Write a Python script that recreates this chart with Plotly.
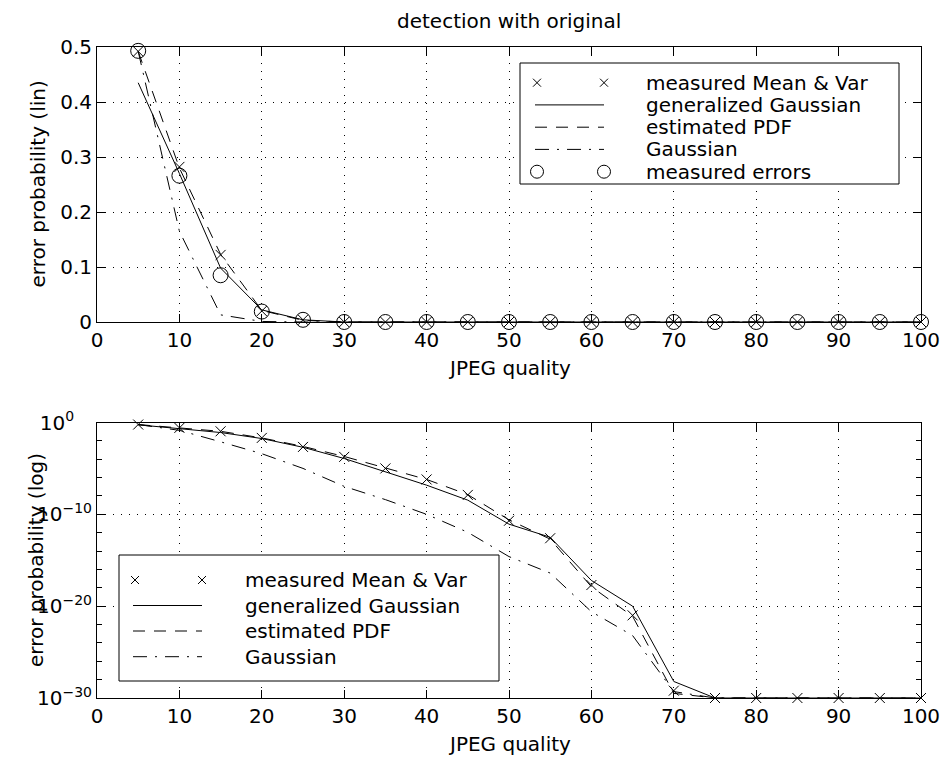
import plotly.graph_objects as go

# ---------------- data ----------------
quality = [5, 10, 15, 20, 25, 30, 35, 40, 45, 50, 55, 60, 65, 70, 75, 80, 85, 90, 95, 100]

# top panel (linear error probability)
meanvar_lin = [0.492, 0.282, 0.122, 0.020, 0.004, 0, 0, 0, 0, 0, 0, 0, 0, 0, 0, 0, 0, 0, 0, 0]
gengauss_lin = [0.435, 0.270, 0.098, 0.022, 0.004, 0, 0, 0, 0, 0, 0, 0, 0, 0, 0, 0, 0, 0, 0, 0]
estpdf_lin = [0.492, 0.280, 0.123, 0.021, 0.003, 0, 0, 0, 0, 0, 0, 0, 0, 0, 0, 0, 0, 0, 0, 0]
gauss_lin = [0.492, 0.165, 0.013, 0.001, 0, 0, 0, 0, 0, 0, 0, 0, 0, 0, 0, 0, 0, 0, 0, 0]
measerr_lin = [0.493, 0.266, 0.085, 0.019, 0.004, 0, 0, 0, 0, 0, 0, 0, 0, 0, 0, 0, 0, 0, 0, 0]

# bottom panel (log error probability)
meanvar_log = [6.0e-1, 2.6e-1, 1.1e-1, 2.1e-2, 2.2e-3, 1.8e-4, 1.0e-5, 6.3e-7, 1.3e-8, 2.0e-11,
               2.5e-13, 2.0e-18, 1.0e-21, 6.3e-30, 1e-30, 1e-30, 1e-30, 1e-30, 1e-30, 1e-30]
gengauss_log = [5.6e-1, 2.2e-1, 8.1e-2, 1.8e-2, 2.0e-3, 1.2e-4, 4.3e-6, 1.5e-7, 3.5e-9, 8.5e-12,
                3.2e-13, 6.3e-18, 1.0e-20, 6.3e-29, 1e-30, 1e-30, 1e-30, 1e-30, 1e-30, 1e-30]
estpdf_log = [6.0e-1, 2.8e-1, 1.1e-1, 2.1e-2, 2.5e-3, 2.0e-4, 1.1e-5, 6.3e-7, 1.4e-8, 2.5e-11,
              2.0e-13, 1.3e-18, 7.9e-22, 3.2e-30, 1e-30, 1e-30, 1e-30, 1e-30, 1e-30, 1e-30]
gauss_log = [6.0e-1, 1.4e-1, 7.9e-3, 4.0e-4, 1.0e-5, 1.1e-7, 4.0e-9, 1.0e-10, 1.1e-12, 2.5e-15,
             4.0e-17, 2.5e-21, 6.3e-24, 5.0e-30, 1e-30, 1e-30, 1e-30, 1e-30, 1e-30, 1e-30]

x_ticks = [0, 10, 20, 30, 40, 50, 60, 70, 80, 90, 100]
lin_ticks = [0, 0.1, 0.2, 0.3, 0.4, 0.5]
lin_ticktext = ["0", "0.1", "0.2", "0.3", "0.4", "0.5"]
log_ticks = [1, 1e-10, 1e-20, 1e-30]
log_ticktext = ["10<sup>0&nbsp;&nbsp;&nbsp;&nbsp;</sup>", "10<sup>\u221210</sup>",
                "10<sup>\u221220</sup>", "10<sup>\u221230</sup>"]
log_minor = [1e-2, 1e-4, 1e-6, 1e-8, 1e-12, 1e-14, 1e-16, 1e-18,
             1e-22, 1e-24, 1e-26, 1e-28]

# ---------------- styling ----------------
W, H = 942, 758
FONT = "DejaVu Sans"
FS = 20
DASH = "12px,9px"
DASHDOT = "14px,8px,2px,8px"


def px(x):
    return x / W


def py(y):
    return 1 - y / H


fig = go.Figure()


def add_panel(xa, ya, mv, gg, pdf, ga, me=None):
    fig.add_trace(go.Scatter(x=quality, y=gg, mode="lines", xaxis=xa, yaxis=ya,
                             line=dict(color="black", width=1), showlegend=False))
    fig.add_trace(go.Scatter(x=quality, y=pdf, mode="lines", xaxis=xa, yaxis=ya,
                             line=dict(color="black", width=1, dash=DASH), showlegend=False))
    fig.add_trace(go.Scatter(x=quality, y=ga, mode="lines", xaxis=xa, yaxis=ya,
                             line=dict(color="black", width=1, dash=DASHDOT), showlegend=False))
    fig.add_trace(go.Scatter(x=quality, y=mv, mode="markers", xaxis=xa, yaxis=ya, cliponaxis=False,
                             marker=dict(symbol="x-thin", size=10, color="black",
                                         line=dict(width=1, color="black")), showlegend=False))
    if me is not None:
        fig.add_trace(go.Scatter(x=quality, y=me, mode="markers", xaxis=xa, yaxis=ya, cliponaxis=False,
                                 marker=dict(symbol="circle-open", size=15, color="black",
                                             line=dict(width=1, color="black")), showlegend=False))


add_panel("x", "y", meanvar_lin, gengauss_lin, estpdf_lin, gauss_lin, measerr_lin)
add_panel("x2", "y2", meanvar_log, gengauss_log, estpdf_log, gauss_log)

common = dict(showline=True, linecolor="black", linewidth=1, mirror="allticks",
              ticks="inside", ticklen=8, tickcolor="black", tickwidth=1,
              showgrid=True, gridcolor="black", gridwidth=1, griddash="1px,7px",
              zeroline=False, automargin=False,
              tickfont=dict(family=FONT, size=FS, color="black"))

xdom = [px(97), px(921)]
fig.update_layout(
    width=W, height=H,
    margin=dict(l=0, r=0, t=0, b=0),
    paper_bgcolor="white", plot_bgcolor="white",
    font=dict(family=FONT, size=FS, color="black"),
    showlegend=False,
    xaxis=dict(common, domain=xdom, anchor="y", range=[0, 100], tickmode="array",
               tickvals=x_ticks, ticktext=[str(v) for v in x_ticks]),
    yaxis=dict(common, domain=[py(322), py(47)], anchor="x", range=[0, 0.5], tickmode="array",
               tickvals=lin_ticks, ticktext=lin_ticktext),
    xaxis2=dict(common, domain=xdom, anchor="y2", range=[0, 100], tickmode="array",
                tickvals=x_ticks, ticktext=[str(v) for v in x_ticks]),
    yaxis2=dict(common, domain=[py(698), py(422.5)], anchor="x2", type="log", range=[-30, 0],
                tickmode="array", tickvals=log_ticks, ticktext=log_ticktext,
                minor=dict(tickmode="array", tickvals=log_minor, ticks="inside", ticklen=5,
                           tickcolor="black", showgrid=False)),
)

shapes = []
annotations = []


def txt(x, y, s, **kw):
    d = dict(x=px(x), y=py(y), xref="paper", yref="paper", text=s, showarrow=False,
             xanchor="center", yanchor="middle",
             font=dict(family=FONT, size=FS, color="black"))
    d.update(kw)
    annotations.append(d)


# titles
txt(509, 21, "detection with original")
txt(509, 368, "JPEG quality")
txt(509, 744, "JPEG quality")
txt(38, 184.5, "error probability (lin)", textangle=-90)
txt(36, 560, "error probability (log)", textangle=-90)


def legend(box, rows, entries, sym_l, sym_r, text_x):
    x0, y0, x1, y1 = box
    shapes.append(dict(type="rect", xref="paper", yref="paper", x0=px(x0), x1=px(x1),
                       y0=py(y1), y1=py(y0), fillcolor="white",
                       line=dict(color="black", width=1), layer="above"))
    for (label, kind), ry in zip(entries, rows):
        if kind in ("x", "o"):
            for cx in (sym_l, sym_r):
                if kind == "x":
                    r = 4
                    shapes.append(dict(type="line", xref="paper", yref="paper",
                                       x0=px(cx - r), x1=px(cx + r), y0=py(ry - r), y1=py(ry + r),
                                       line=dict(color="black", width=1)))
                    shapes.append(dict(type="line", xref="paper", yref="paper",
                                       x0=px(cx - r), x1=px(cx + r), y0=py(ry + r), y1=py(ry - r),
                                       line=dict(color="black", width=1)))
                else:
                    r = 6.5
                    shapes.append(dict(type="circle", xref="paper", yref="paper",
                                       x0=px(cx - r), x1=px(cx + r), y0=py(ry + r), y1=py(ry - r),
                                       line=dict(color="black", width=1)))
        else:
            dash = {"solid": "solid", "dash": DASH, "dashdot": DASHDOT}[kind]
            shapes.append(dict(type="line", xref="paper", yref="paper",
                               x0=px(sym_l - 2), x1=px(sym_r), y0=py(ry), y1=py(ry),
                               line=dict(color="black", width=1, dash=dash)))
        txt(text_x, ry, label, xanchor="left", yanchor="middle")


legend((520, 63, 899, 184), [82.7, 104.9, 127.2, 149.4, 171.7],
       [("measured Mean &amp; Var", "x"), ("generalized Gaussian", "solid"),
        ("estimated PDF", "dash"), ("Gaussian", "dashdot"), ("measured errors", "o")],
       537, 604, 644)
legend((119, 555, 499, 681), [580, 605.5, 631, 656.7],
       [("measured Mean &amp; Var", "x"), ("generalized Gaussian", "solid"),
        ("estimated PDF", "dash"), ("Gaussian", "dashdot")],
       135, 202, 243)

fig.update_layout(shapes=shapes, annotations=annotations)
fig.write_html("out.html")
